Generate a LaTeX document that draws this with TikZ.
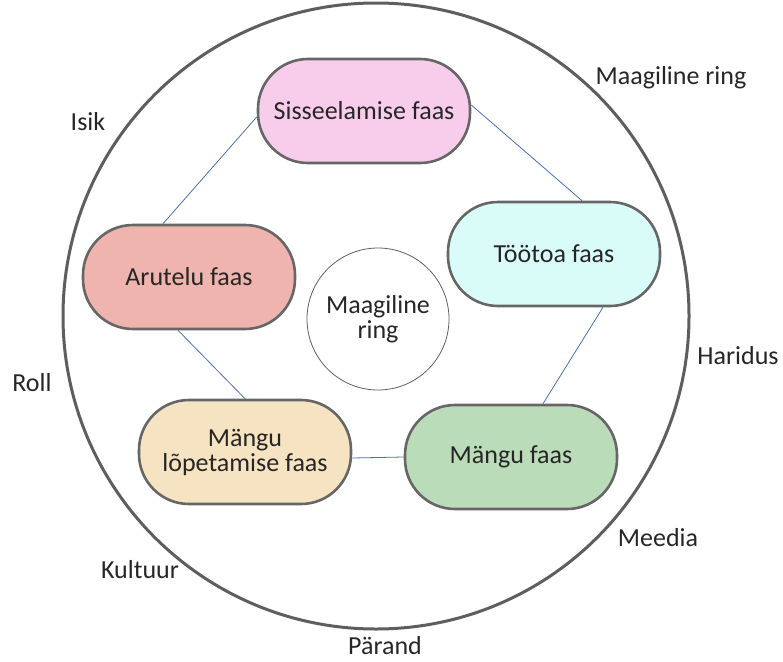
\documentclass[tikz,border=0pt]{standalone}
\usepackage{fontspec}
\setmainfont{Carlito}
\definecolor{rimgray}{HTML}{5E5E5E}
\definecolor{boxgray}{HTML}{666666}
\definecolor{linkblue}{HTML}{4A6FB0}
\definecolor{pinkfill}{HTML}{F8CDEC}
\definecolor{cyanfill}{HTML}{DAFCF8}
\definecolor{redfill}{HTML}{F0B4AE}
\definecolor{greenfill}{HTML}{BADCB9}
\definecolor{sandfill}{HTML}{F5E3C1}
\begin{document}
\begin{tikzpicture}[
  x=1pt, y=-1pt,
  every node/.style={font=\fontsize{26}{25}\selectfont, text=black!85},
  phase/.style={draw=boxgray, line width=2.6pt, rounded corners=50pt, align=center,
    minimum width=212pt, minimum height=104pt, inner sep=2pt},
  hub/.style={draw=rimgray, line width=0.8pt, circle, minimum size=142pt, align=center, inner sep=0pt},
  outer/.style={font=\fontsize{26}{26}\selectfont},
  link/.style={draw=linkblue, line width=0.8pt}
]
\useasboundingbox (0,0) rectangle (783,661);

% --- grand cercle ---
\node[draw=rimgray, line width=3pt, circle, minimum size=626pt] (rim) at (376,316) {};

% --- les phases ---
\node[phase, fill=pinkfill]  (siss) at (364,111) {Sisseelamise faas};
\node[phase, fill=cyanfill]  (toot) at (554,254) {Töötoa faas};
\node[phase, fill=redfill]   (arut) at (189,277) {Arutelu faas};
\node[phase, fill=greenfill] (mang) at (511,457) {Mängu faas};
\node[phase, fill=sandfill]  (lope) at (245,452) {Mängu\\lõpetamise faas};

% --- centre ---
\node[hub] (ring) at (378,319) {Maagiline\\ring};

% --- liens ---
\draw[link] ([yshift=-6pt]siss.west) -- ([xshift=-26pt]arut.north);
\draw[link] ([yshift=6pt]siss.east) -- ([xshift=28pt]toot.north);
\draw[link] ([xshift=49pt]toot.south) -- ([xshift=32pt]mang.north);
\draw[link] (mang.west) -- ([yshift=-6pt]lope.east);
\draw[link] (lope.north) -- ([xshift=-11pt]arut.south);

% --- étiquettes autour du cercle ---
\node[outer] (l1) at (671,78)  {Maagiline ring};
\node[outer] (l2) at (88,122)  {Isik};
\node[outer] (l3) at (32,383)  {Roll};
\node[outer] (l4) at (738,356) {Haridus};
\node[outer] (l5) at (658,538) {Meedia};
\node[outer] (l6) at (140,570) {Kultuur};
\node[outer] (l7) at (385,646) {Pärand};

\end{tikzpicture}
\end{document}
